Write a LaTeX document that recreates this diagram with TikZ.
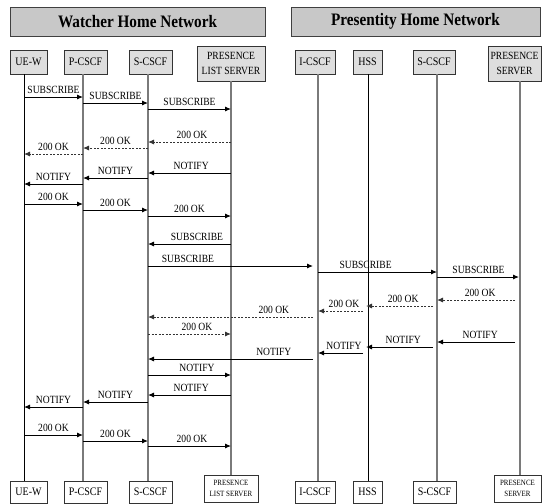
\documentclass[tikz,border=0pt]{standalone}
\usepackage{fontspec}
\setmainfont{Liberation Serif}[FakeStretch=0.87]
\usetikzlibrary{arrows.meta}

\definecolor{hdrfill}{HTML}{C8C8C8}
\definecolor{boxfill}{HTML}{DEDEDE}
\definecolor{lifegray}{HTML}{7A7A7A}

\tikzset{
  header/.style={draw=black!75, line width=1pt, fill=hdrfill, inner sep=0pt,
    font=\fontsize{17.5}{20}\selectfont\bfseries},
  entity/.style={draw=black!80, line width=0.9pt, fill=boxfill, inner sep=0pt,
    align=center, font=\fontsize{11.5}{13}\selectfont},
  entitybot/.style={entity, fill=white},
  twoline/.style={font=\fontsize{11}{15}\selectfont},
  twolinesmall/.style={font=\fontsize{8}{11}\selectfont},
  life/.style={draw=lifegray, line width=1.1pt},
  lifedark/.style={draw=black, line width=0.9pt},
  msg/.style={draw=black, line width=0.9pt, -{Latex[length=6pt,width=5pt]}},
  reply/.style={msg, draw=black!80, dash pattern=on 2pt off 1.5pt},
  lbl/.style={font=\fontsize{11}{12}\selectfont, inner sep=2.5pt, anchor=south}
}

% one message: style, from, to, depth below the top, label position, label
\newcommand\sigmsg[6]{%
  \draw[#1] ([yshift=-#4pt]#2) -- node[lbl, pos=#5]{#6} ([yshift=-#4pt]#3);}

\begin{document}
\begin{tikzpicture}[x=1pt, y=-1pt]
\useasboundingbox (0,0) rectangle (542,504);

% network headers
\node[header, minimum width=255pt, minimum height=29pt] (watcher) at (137.5,21.5) {Watcher Home Network};
\node[header, minimum width=249pt, minimum height=29pt] (presentity) at (415.5,21.5) {Presentity Home Network};

% entities, top row
\node[entity, minimum width=37pt, minimum height=24pt] (uewT)    at (28.5,62)  {UE-W};
\node[entity, minimum width=43pt, minimum height=24pt] (pcscfT)  at (85.5,62)  {P-CSCF};
\node[entity, minimum width=43pt, minimum height=24pt] (scscfT)  at (150.5,62) {S-CSCF};
\node[entity, twoline, minimum width=68pt, minimum height=35pt] (plsT) at (231,63.5) {PRESENCE\\LIST SERVER};
\node[entity, minimum width=40pt, minimum height=24pt] (icscfT)  at (315,62)   {I-CSCF};
\node[entity, minimum width=29pt, minimum height=24pt] (hssT)    at (367.5,62) {HSS};
\node[entity, minimum width=42pt, minimum height=24pt] (scscfbT) at (434,62)   {S-CSCF};
\node[entity, twoline, minimum width=53pt, minimum height=35pt] (psT) at (514.5,63.5) {PRESENCE\\SERVER};

% entities, bottom row
\node[entitybot, minimum width=37pt, minimum height=22pt] (uewB)    at (28.5,492)  {UE-W};
\node[entitybot, minimum width=43pt, minimum height=22pt] (pcscfB)  at (85.5,492)  {P-CSCF};
\node[entitybot, minimum width=43pt, minimum height=22pt] (scscfB)  at (150.5,492) {S-CSCF};
\node[entitybot, twolinesmall, minimum width=54pt, minimum height=27pt] (plsB) at (231,488.5) {PRESENCE\\LIST SERVER};
\node[entitybot, minimum width=40pt, minimum height=22pt] (icscfB)  at (315,492)   {I-CSCF};
\node[entitybot, minimum width=29pt, minimum height=22pt] (hssB)    at (367.5,492) {HSS};
\node[entitybot, minimum width=43pt, minimum height=22pt] (scscfbB) at (434.5,492) {S-CSCF};
\node[entitybot, twolinesmall, minimum width=47pt, minimum height=27pt] (psB) at (517.5,488.5) {PRESENCE\\SERVER};

% lifeline positions
\coordinate (uew)    at (24,0);
\coordinate (pcscf)  at (83,0);
\coordinate (scscf)  at (148,0);
\coordinate (pls)    at (231,0);
\coordinate (icscf)  at (318,0);
\coordinate (hss)    at (368,0);
\coordinate (scscfb) at (437,0);
\coordinate (ps)     at (520,0);

% lifelines
\draw[lifedark] (uew |- uewT.south)       -- (uew |- uewB.north);
\draw[life]     (pcscf |- pcscfT.south)   -- (pcscf |- pcscfB.north);
\draw[life]     (scscf |- scscfT.south)   -- (scscf |- scscfB.north);
\draw[life]     (pls |- plsT.south)       -- (pls |- plsB.north);
\draw[life]     (icscf |- icscfT.south)   -- (icscf |- icscfB.north);
\draw[lifedark] (hss |- hssT.south)       -- (hss |- hssB.north);
\draw[life]     (scscfb |- scscfbT.south) -- (scscfb |- scscfbB.north);
\draw[life]     (ps |- psT.south)         -- (ps |- psB.north);

% watcher subscribes to the presence list
\sigmsg{msg}{uew}{pcscf}{97}{.5}{SUBSCRIBE}
\sigmsg{msg}{pcscf}{scscf}{103}{.5}{SUBSCRIBE}
\sigmsg{msg}{scscf}{pls}{109}{.5}{SUBSCRIBE}
\sigmsg{reply}{pls}{scscf}{142}{.47}{200 OK}
\sigmsg{reply}{scscf}{pcscf}{148}{.5}{200 OK}
\sigmsg{reply}{pcscf}{uew}{154}{.5}{200 OK}
\sigmsg{msg}{pls}{scscf}{173}{.48}{NOTIFY}
\sigmsg{msg}{scscf}{pcscf}{178}{.5}{NOTIFY}
\sigmsg{msg}{pcscf}{uew}{184}{.5}{NOTIFY}
\sigmsg{msg}{uew}{pcscf}{204}{.5}{200 OK}
\sigmsg{msg}{pcscf}{scscf}{210}{.5}{200 OK}
\sigmsg{msg}{scscf}{pls}{216}{.5}{200 OK}

% list server subscribes to the presentity
\sigmsg{msg}{pls}{scscf}{244}{.41}{SUBSCRIBE}
\sigmsg{msg, shorten >=5pt}{scscf}{icscf}{266}{.235}{SUBSCRIBE}
\sigmsg{msg}{icscf}{scscfb}{272}{.40}{SUBSCRIBE}
\sigmsg{msg, shorten >=1pt}{scscfb}{ps}{277}{.5}{SUBSCRIBE}
\sigmsg{reply, shorten <=5pt}{ps}{scscfb}{300}{.48}{200 OK}
\sigmsg{reply, shorten <=4pt, shorten >=-2pt}{scscfb}{hss}{306}{.49}{200 OK}
\sigmsg{reply, shorten <=5pt}{hss}{icscf}{311}{.48}{200 OK}
\sigmsg{reply, shorten <=5pt}{icscf}{scscf}{317}{.26}{200 OK}
\sigmsg{reply}{scscf}{pls}{334}{.59}{200 OK}
\sigmsg{msg, shorten <=5pt}{ps}{scscfb}{342}{.48}{NOTIFY}
\sigmsg{msg, shorten <=4pt, shorten >=-2pt}{scscfb}{hss}{347}{.49}{NOTIFY}
\sigmsg{msg, shorten <=5pt}{hss}{icscf}{353}{.48}{NOTIFY}
\sigmsg{msg, shorten <=5pt}{icscf}{scscf}{359}{.26}{NOTIFY}
\sigmsg{msg}{scscf}{pls}{375}{.59}{NOTIFY}

% list server notifies the watcher
\sigmsg{msg}{pls}{scscf}{395}{.48}{NOTIFY}
\sigmsg{msg}{scscf}{pcscf}{402}{.5}{NOTIFY}
\sigmsg{msg}{pcscf}{uew}{407}{.5}{NOTIFY}
\sigmsg{msg}{uew}{pcscf}{435}{.5}{200 OK}
\sigmsg{msg}{pcscf}{scscf}{441}{.5}{200 OK}
\sigmsg{msg}{scscf}{pls}{446}{.53}{200 OK}

\end{tikzpicture}
\end{document}
